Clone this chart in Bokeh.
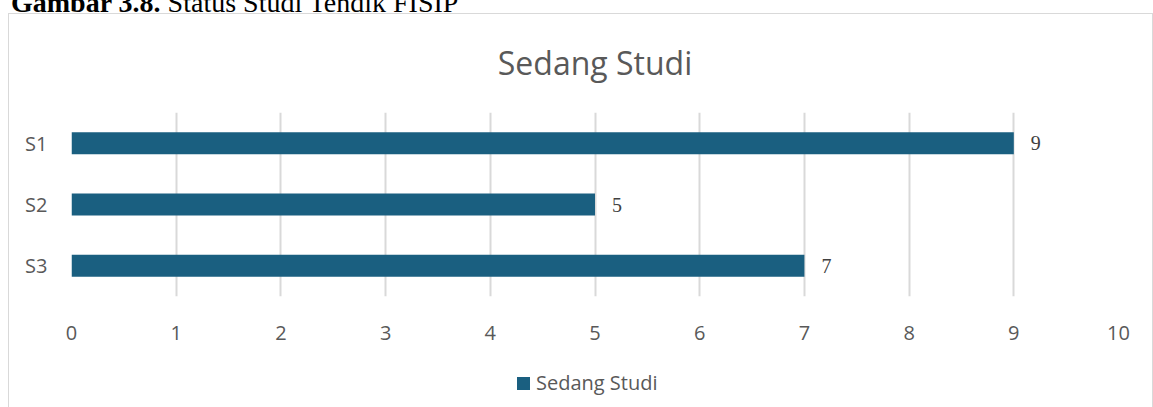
from bokeh.plotting import figure
from bokeh.layouts import column
from bokeh.models import (Div, FactorRange, Range1d, ColumnDataSource, LabelSet,
                          FixedTicker)
from bokeh.embed import file_html
from bokeh.resources import INLINE

# ---- data ----
categories = ["S1", "S2", "S3"]
values = [9, 5, 7]
series_name = "Sedang Studi"
chart_title = "Sedang Studi"
x_ticks = [0, 1, 2, 3, 4, 5, 6, 7, 8, 9, 10]
caption_bold = "Gambar 3.8."
caption_rest = "Status Studi Tendik FISIP"

BAR = "#1a5f80"
TXT = "#595959"
GRID = "#d9d9d9"
FONT = "Open Sans"

source = ColumnDataSource(dict(cat=categories, val=values,
                               lbl=[str(v) for v in values]))

p = figure(width=1150, height=361,
           y_range=FactorRange(*reversed(categories)),
           x_range=Range1d(0, 10),
           output_backend="svg", toolbar_location=None,
           min_border_left=71, min_border_right=32,
           min_border_top=110, min_border_bottom=67)
p.y_range.range_padding = 0

p.title.text = chart_title
p.title.align = "center"
p.title.offset = -11
p.title.text_font = FONT
p.title.text_font_size = "32px"
p.title.text_font_style = "normal"
p.title.text_color = TXT
p.title.standoff = 57

r = p.hbar(y="cat", right="val", left=0, height=0.36, source=source,
           fill_color=BAR, line_color=None, legend_label=series_name)
p.legend.visible = False

labels = LabelSet(x="val", y="cat", text="lbl", source=source, x_offset=17,
                  text_baseline="middle", text_font=FONT,
                  text_font_size="20px", text_color="#404040")
p.add_layout(labels)

p.outline_line_color = None
p.background_fill_color = None
p.border_fill_color = None

p.xgrid.ticker = FixedTicker(ticks=x_ticks)
p.xgrid.grid_line_color = GRID
p.xgrid.grid_line_width = 2
p.ygrid.grid_line_color = None

p.xaxis.ticker = FixedTicker(ticks=x_ticks)
for ax in (p.xaxis[0], p.yaxis[0]):
    ax.axis_line_color = None
    ax.major_tick_line_color = None
    ax.minor_tick_line_color = None
    ax.major_tick_out = 0
    ax.major_tick_in = 0
    ax.major_label_text_font = FONT
    ax.major_label_text_font_size = "20px"
    ax.major_label_text_color = TXT
p.xaxis.major_label_standoff = 29
p.yaxis.major_label_standoff = 24

caption = Div(
    text=(f'<div style="position:absolute; left:11px; top:-11px; white-space:nowrap; '
          f'font-family:\'Liberation Serif\'; font-size:28px; line-height:1; color:#000;">'
          f'<b>{caption_bold}</b> {caption_rest}</div>'
          f'<div style="position:absolute; left:8px; top:13px; width:1145px; height:400px; '
          f'border:1px solid {GRID}; border-bottom:none; box-sizing:border-box;"></div>'),
    width=1150, height=2, margin=(0, 0, 0, 0))

legend_div = Div(
    text=(f'<div style="position:absolute; left:517px; top:6px; height:28px; '
          f'display:flex; align-items:center; white-space:nowrap; '
          f'font-family:\'Open Sans\'; font-size:20px; color:{TXT};">'
          f'<span style="display:inline-block; width:13px; height:13px; '
          f'background:{BAR}; margin-right:6px;"></span>{series_name}</div>'),
    width=1150, height=30, margin=(0, 0, 0, 0))

layout = column(caption, p, legend_div, spacing=0)

open("out.html", "w").write(file_html(layout, INLINE))
